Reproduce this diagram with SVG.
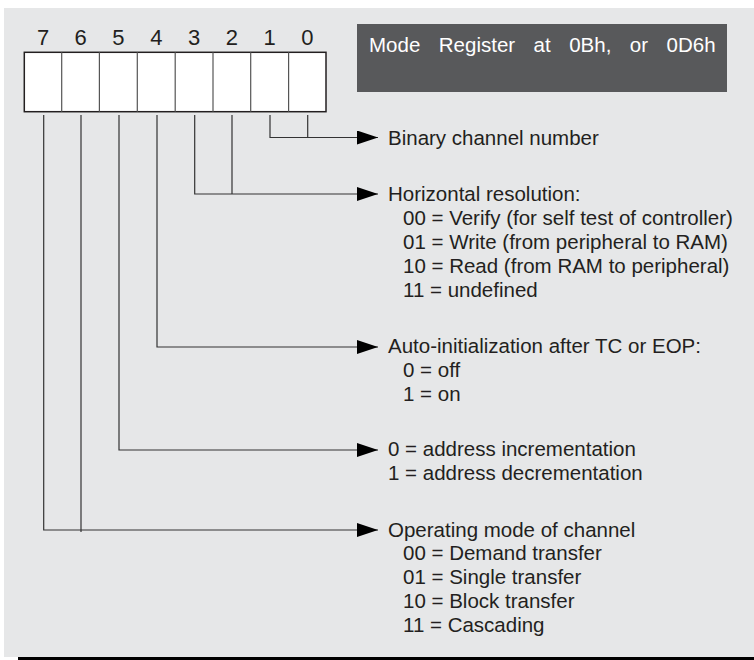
<svg xmlns="http://www.w3.org/2000/svg" width="754" height="660" viewBox="0 0 754 660">
<style>
.t{font-family:"Liberation Sans",Arial,sans-serif;font-size:20.5px;fill:#231f20}
.d{font-family:"Liberation Sans",Arial,sans-serif;font-size:22px;fill:#231f20;text-anchor:middle}
.ttl{font-family:"Liberation Sans",Arial,sans-serif;font-size:20.5px;fill:#ffffff;word-spacing:12.8px}
.c{fill:#ffffff;stroke:#231f20;stroke-width:1.5}
.div{stroke:#555;stroke-width:1.2}
.w{fill:none;stroke:#333;stroke-width:1.2}
</style>
<defs>
<marker id="ah" markerUnits="userSpaceOnUse" markerWidth="22" markerHeight="16" refX="21" refY="7" orient="auto">
<path d="M0,0 L21,7 L0,14 z" fill="#000"/>
</marker>
</defs>
<rect x="4" y="8" width="750" height="649" fill="#e6e7e8"/>
<rect x="18" y="657" width="736" height="3" fill="#000"/>
<g id="title">
<rect x="357" y="24" width="370" height="68" fill="#58595b"/>
<text class="ttl" x="369" y="52">Mode Register at 0Bh, or 0D6h</text>
</g>
<g id="register">
<rect class="c" x="24.3" y="52.3" width="301.7" height="59.4"/>
<line class="div" x1="61.7" y1="52.3" x2="61.7" y2="111.7"/>
<line class="div" x1="99.4" y1="52.3" x2="99.4" y2="111.7"/>
<line class="div" x1="137.3" y1="52.3" x2="137.3" y2="111.7"/>
<line class="div" x1="175.2" y1="52.3" x2="175.2" y2="111.7"/>
<line class="div" x1="213" y1="52.3" x2="213" y2="111.7"/>
<line class="div" x1="250.7" y1="52.3" x2="250.7" y2="111.7"/>
<line class="div" x1="288.6" y1="52.3" x2="288.6" y2="111.7"/>
<text class="d" x="43" y="45">7</text>
<text class="d" x="80.5" y="45">6</text>
<text class="d" x="118.4" y="45">5</text>
<text class="d" x="156.3" y="45">4</text>
<text class="d" x="194" y="45">3</text>
<text class="d" x="231.9" y="45">2</text>
<text class="d" x="269.6" y="45">1</text>
<text class="d" x="307.3" y="45">0</text>
</g>
<g id="connectors">
<path class="w" d="M270,115 V137.5 H378" marker-end="url(#ah)"/>
<path class="w" d="M307.7,115 V137.5"/>
<path class="w" d="M194.7,115 V194 H378" marker-end="url(#ah)"/>
<path class="w" d="M232,115 V194"/>
<path class="w" d="M157,115 V347 H378" marker-end="url(#ah)"/>
<path class="w" d="M119,115 V450 H378" marker-end="url(#ah)"/>
<path class="w" d="M43.7,115 V530 H378" marker-end="url(#ah)"/>
<path class="w" d="M81,115 V532"/>
</g>
<g id="bits10">
<text class="t" x="388" y="145">Binary channel number</text>
</g>
<g id="bits32">
<text class="t" x="388" y="201">Horizontal resolution:</text>
<text class="t" x="403" y="225">00 = Verify (for self test of controller)</text>
<text class="t" x="403" y="249">01 = Write (from peripheral to RAM)</text>
<text class="t" x="403" y="273">10 = Read (from RAM to peripheral)</text>
<text class="t" x="403" y="297">11 = undefined</text>
</g>
<g id="bit4">
<text class="t" x="388" y="353">Auto-initialization after TC or EOP:</text>
<text class="t" x="403" y="377">0 = off</text>
<text class="t" x="403" y="401">1 = on</text>
</g>
<g id="bit5">
<text class="t" x="388" y="456">0 = address incrementation</text>
<text class="t" x="388" y="480">1 = address decrementation</text>
</g>
<g id="bits76">
<text class="t" x="388" y="537">Operating mode of channel</text>
<text class="t" x="403" y="560">00 = Demand transfer</text>
<text class="t" x="403" y="584">01 = Single transfer</text>
<text class="t" x="403" y="608">10 = Block transfer</text>
<text class="t" x="403" y="632">11 = Cascading</text>
</g>
</svg>
